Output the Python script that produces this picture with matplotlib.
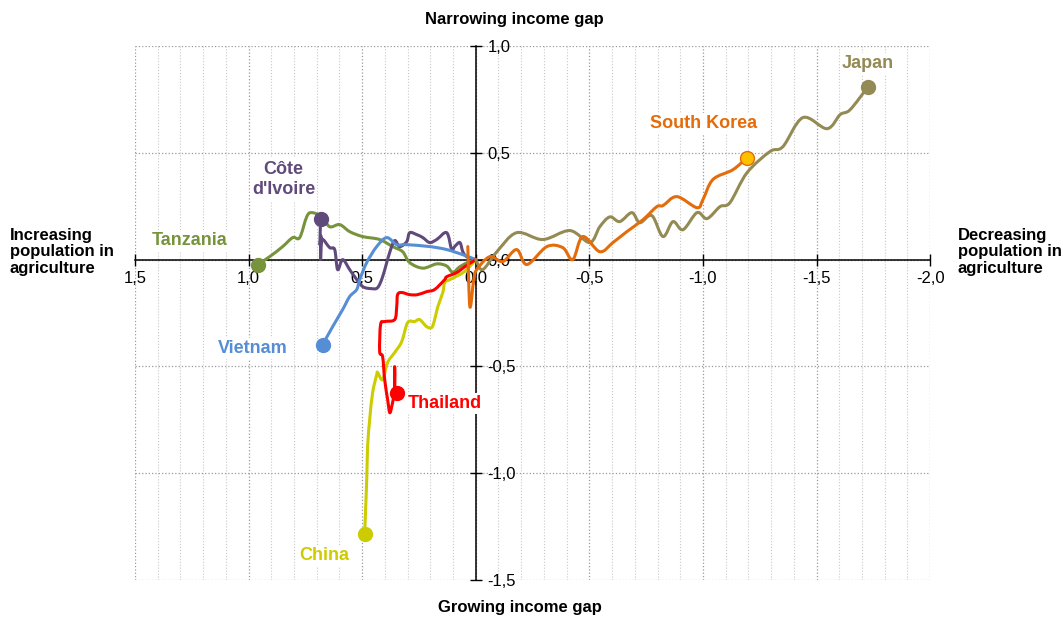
import matplotlib
matplotlib.use("Agg")
import matplotlib.pyplot as plt
import numpy as np
from matplotlib.path import Path
from matplotlib.patches import PathPatch
from matplotlib.ticker import FuncFormatter, MultipleLocator

plt.rcParams["font.family"] = ["Liberation Sans", "DejaVu Sans"]

# ── Data: (change in agri population share, change in income gap) ──
japan_x = [0, -0.03, -0.093, -0.18, -0.295, -0.414, -0.502, -0.546, -0.59, -0.634, -0.687, -0.722,
           -0.775, -0.824, -0.868, -0.912, -0.974, -1.018, -1.075, -1.119, -1.194, -1.295, -1.352,
           -1.44, -1.546, -1.604, -1.648, -1.727]
japan_y = [0, -0.047, 0.037, 0.126, 0.094, 0.136, 0.08, 0.154, 0.2, 0.178, 0.22, 0.173,
           0.206, 0.108, 0.178, 0.14, 0.22, 0.192, 0.248, 0.267, 0.407, 0.506, 0.529,
           0.665, 0.613, 0.679, 0.702, 0.81]

korea_x = [0.035, 0.026, 0.009, -0.004, -0.062, -0.119, -0.18, -0.225, -0.313, -0.383, -0.427,
           -0.471, -0.546, -0.604, -0.665, -0.736, -0.797, -0.824, -0.885, -0.974, -1.0, -1.044,
           -1.132, -1.194]
korea_y = [0.061, -0.22, -0.094, -0.047, 0.014, -0.009, 0.047, -0.023, 0.061, 0.056, 0.0,
           0.108, 0.037, 0.08, 0.131, 0.187, 0.248, 0.253, 0.295, 0.243, 0.281, 0.375,
           0.421, 0.478]

tanzania_x = [0, 0.026, 0.07, 0.101, 0.128, 0.172, 0.233, 0.291, 0.322, 0.366, 0.423, 0.498,
              0.555, 0.599, 0.643, 0.678, 0.722, 0.744, 0.775, 0.806, 0.85, 0.907, 0.96]
tanzania_y = [0, -0.009, -0.033, -0.06, -0.03, -0.02, -0.04, -0.014, 0.037, 0.061, 0.094, 0.108,
              0.131, 0.164, 0.154, 0.201, 0.22, 0.201, 0.103, 0.103, 0.061, 0.014, -0.023]

ivoire_x = [0, 0.04, 0.057, 0.07, 0.093, 0.106, 0.128, 0.172, 0.203, 0.233, 0.26, 0.291,
            0.304, 0.335, 0.357, 0.379, 0.41, 0.432, 0.458, 0.498, 0.533, 0.555, 0.586,
            0.608, 0.621, 0.643, 0.678, 0.683, 0.681, 0.686, 0.683]
ivoire_y = [0, 0.014, 0.037, 0.08, 0.061, 0.047, 0.126, 0.094, 0.08, 0.103, 0.117, 0.126,
            0.084, 0.061, 0.089, 0.033, -0.08, -0.131, -0.136, -0.126, -0.08, -0.047, 0.0,
            -0.047, 0.047, 0.056, 0.094, 0.0, 0.11, 0.07, 0.192]

vietnam_x = [0, 0.057, 0.128, 0.203, 0.304, 0.348, 0.392, 0.436, 0.48, 0.511, 0.524, 0.555,
             0.586, 0.63, 0.674]
vietnam_y = [0, 0.023, 0.047, 0.061, 0.07, 0.07, 0.103, 0.061, -0.014, -0.094, -0.14, -0.173,
             -0.234, -0.314, -0.398]

thailand_x = [0, 0.048, 0.084, 0.128, 0.137, 0.181, 0.216, 0.256, 0.291, 0.326, 0.344, 0.348,
              0.357, 0.401, 0.419, 0.423, 0.41, 0.401, 0.388, 0.379, 0.37, 0.357, 0.357,
              0.357, 0.348]
thailand_y = [0, -0.033, -0.061, -0.08, -0.094, -0.14, -0.15, -0.164, -0.164, -0.154, -0.164,
              -0.22, -0.281, -0.29, -0.304, -0.431, -0.454, -0.562, -0.655, -0.716, -0.688,
              -0.609, -0.501, -0.623, -0.623]

china_x = [0, 0.04, 0.07, 0.115, 0.137, 0.145, 0.167, 0.181, 0.194, 0.216, 0.247, 0.269, 0.3,
           0.326, 0.357, 0.388, 0.41, 0.432, 0.436, 0.454, 0.467, 0.476, 0.48, 0.489]
china_y = [0, -0.047, -0.07, -0.094, -0.108, -0.154, -0.22, -0.281, -0.318, -0.314, -0.281,
           -0.29, -0.295, -0.384, -0.435, -0.482, -0.562, -0.529, -0.538, -0.623, -0.749,
           -0.875, -1.03, -1.283]

SERIES = [
    ("Tanzania", tanzania_x, tanzania_y, "#77933C", "#77933C", (1.26, 0.089)),
    ("Côte\nd'Ivoire", ivoire_x, ivoire_y, "#604A7B", "#604A7B", (0.846, 0.375)),
    ("Vietnam", vietnam_x, vietnam_y, "#558ED5", "#558ED5", (0.982, -0.417)),
    ("China", china_x, china_y, "#CCCC00", "#CCCC00", (0.665, -1.386)),
    ("Thailand", thailand_x, thailand_y, "#FF0000", "#FF0000", (0.137, -0.674)),
    ("Japan", japan_x, japan_y, "#948A54", "#948A54", (-1.727, 0.918)),
    ("South Korea", korea_x, korea_y, "#E46C0A", "#FFC000", (-1.004, 0.637)),
]


def comma_fmt(v, _pos):
    if abs(v) < 1e-9:
        return "0,0"
    return f"{v:.1f}".replace(".", ",")


def smooth_path(xs, ys, tension=1 / 6):
    """Excel-like smoothed line: Catmull-Rom through the points as cubic Beziers."""
    p = np.column_stack([xs, ys]).astype(float)
    verts = [p[0]]
    codes = [Path.MOVETO]
    for i in range(len(p) - 1):
        p0 = p[i - 1] if i > 0 else p[i]
        p3 = p[i + 2] if i + 2 < len(p) else p[i + 1]
        c1 = p[i] + (p[i + 1] - p0) * tension
        c2 = p[i + 1] - (p3 - p[i]) * tension
        verts += [c1, c2, p[i + 1]]
        codes += [Path.CURVE4] * 3
    return Path(verts, codes)


fig = plt.figure(figsize=(10.63, 6.17), dpi=100)
ax = fig.add_axes([0.127, 0.06, 0.748, 0.8654])

ax.set_xlim(1.5, -2.0)
ax.set_ylim(-1.5, 1.0)

ax.xaxis.set_major_locator(MultipleLocator(0.5))
ax.xaxis.set_minor_locator(MultipleLocator(0.1))
ax.yaxis.set_major_locator(MultipleLocator(0.5))
ax.xaxis.set_major_formatter(FuncFormatter(comma_fmt))
ax.yaxis.set_major_formatter(FuncFormatter(comma_fmt))

ax.grid(which="minor", axis="x", color="#c8c8c8", linestyle=":", linewidth=0.8)
ax.grid(which="major", color="#9a9a9a", linestyle=":", linewidth=0.9)
ax.set_axisbelow(True)

# axes crossing at the origin
ax.spines["top"].set_visible(False)
ax.spines["left"].set_visible(False)
ax.spines["right"].set_position(("data", 0))
ax.spines["bottom"].set_position(("data", 0))
for s in ("right", "bottom"):
    ax.spines[s].set_color("black")
    ax.spines[s].set_linewidth(1.1)
    ax.spines[s].set_zorder(1.5)
ax.yaxis.set_ticks_position("right")
ax.xaxis.set_ticks_position("bottom")
ax.tick_params(which="major", direction="inout", length=9, width=1, labelsize=12, pad=4)
ax.tick_params(which="minor", length=0)

for name, xs, ys, color, mcolor, (tx, ty) in SERIES:
    ax.add_patch(PathPatch(smooth_path(xs, ys), fill=False, edgecolor=color,
                           linewidth=2.2, joinstyle="round", capstyle="round", zorder=3))
    ax.plot(xs[-1], ys[-1], "o", markersize=10, color=mcolor,
            markeredgecolor=color, markeredgewidth=1, zorder=4)
    ax.text(tx, ty, name, color=color, fontsize=13, fontweight="bold",
            ha="center", va="center", linespacing=1.3, zorder=5,
            bbox=dict(facecolor="white", edgecolor="none", pad=1.5))

title_kw = dict(fontsize=12, fontweight="bold", color="black")
fig.text(0.4835, 0.968, "Narrowing income gap", ha="center", va="center", **title_kw)
fig.text(0.489, 0.016, "Growing income gap", ha="center", va="center", **title_kw)
fig.text(0.0094, 0.5916, "Increasing\npopulation in\nagriculture", ha="left", va="center",
         linespacing=1.12, **title_kw)
fig.text(0.901, 0.5916, "Decreasing\npopulation in\nagriculture", ha="left", va="center",
         linespacing=1.12, **title_kw)

fig.savefig("out.png", dpi=100)
